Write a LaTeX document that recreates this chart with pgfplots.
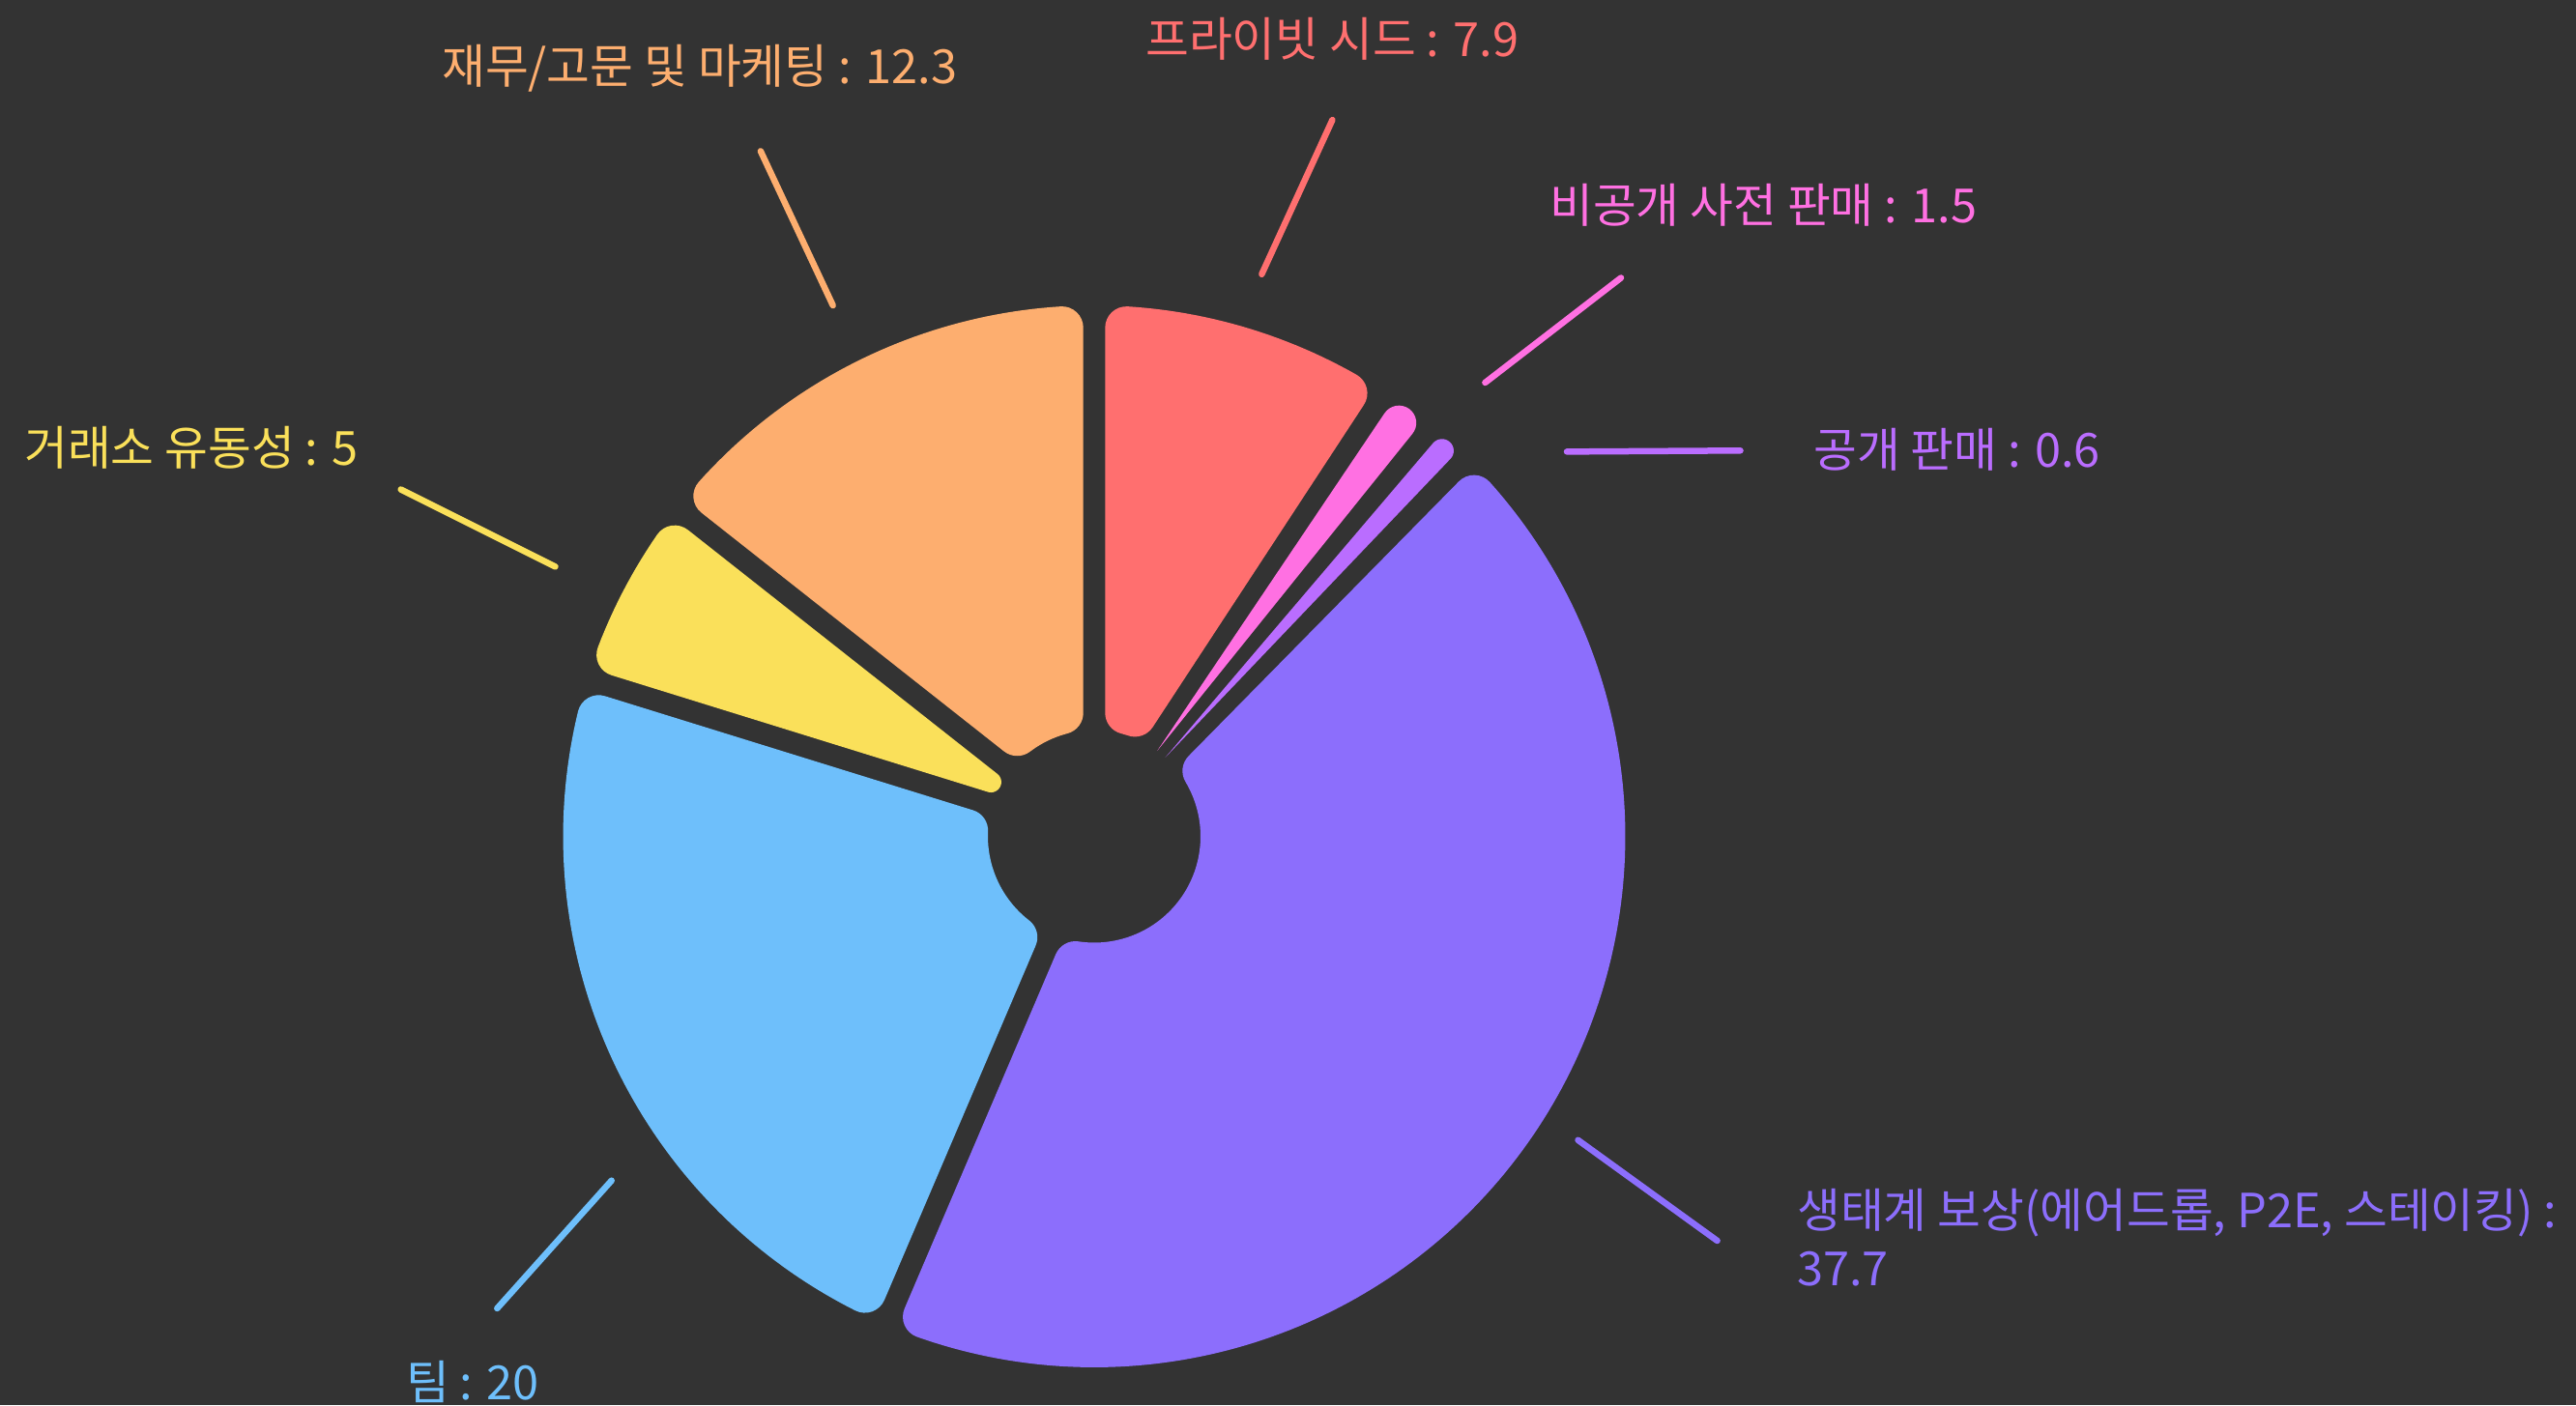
\documentclass[border=0pt]{standalone}
\usepackage{pgfplots}
\pgfplotsset{compat=1.18}
\usepackage{pgfplotstable}
\usepackage{fontspec}
\newfontfamily\kr{Noto Sans CJK KR}

\definecolor{bgc}{HTML}{333333}
\definecolor{sc0}{HTML}{FF6F6F}
\definecolor{sc1}{HTML}{FF70E2}
\definecolor{sc2}{HTML}{BA6DFF}
\definecolor{sc3}{HTML}{8C6EFC}
\definecolor{sc4}{HTML}{6EBFFB}
\definecolor{sc5}{HTML}{FAE05A}
\definecolor{sc6}{HTML}{FDAE6F}

% slice values, clockwise from 12 o'clock
\pgfplotstableread{
value
7.9
1.5
0.6
37.7
20
5
12.3
}\piedata

% geometry (in units of 100 px of the picture)
\def\pieR{5.495}\def\pier{1.10}\def\pieg{0.113}\def\pierho{0.22}
\def\cx{11.32}\def\cy{5.885}
\def\minang{5}
\def\emptymacro{}

\newcommand\addpt[2]{%
  \pgfmathsetmacro\tX{100*(\cx+(#1)*cos(\pmid)-(#2)*sin(\pmid))}%
  \pgfmathsetmacro\tY{100*(\cy+(#1)*sin(\pmid)+(#2)*cos(\pmid))}%
  \ifx\gpath\emptymacro\xdef\gpath{(axis cs:\tX,\tY)}\else\xdef\gpath{\gpath -- (axis cs:\tX,\tY)}\fi
}
\newcommand\addarc[6]{%
  \foreach \kk in {0,...,#6}{%
    \pgfmathsetmacro\ta{#4+((#5)-(#4))*(\kk/(#6))}%
    \pgfmathsetmacro\ux{#1+(#3)*cos(\ta)}%
    \pgfmathsetmacro\uy{#2+(#3)*sin(\ta)}%
    \addpt{\ux}{\uy}%
  }%
}
\newcommand\buildslice[3]{%
  \pgfmathsetmacro\slH{((#2)-(#3))/2}%
  \pgfmathsetmacro\pmid{((#2)+(#3))/2}%
  \pgfmathsetmacro\slS{sin(\slH)}%
  \pgfmathsetmacro\slC{cos(\slH)}%
  \pgfmathsetmacro\ro{min(\pierho,(\pieR*\slS-\pieg)/(1+\slS))}%
  \pgfmathsetmacro\Do{\pieg+\ro}%
  \pgfmathsetmacro\So{\pieR-\ro}%
  \pgfmathsetmacro\ao{sqrt(\So*\So-\Do*\Do)}%
  \pgfmathsetmacro\Cox{\ao*\slC+\Do*\slS}%
  \pgfmathsetmacro\Coy{\ao*\slS-\Do*\slC}%
  \pgfmathsetmacro\phio{atan2(\Coy,\Cox)}%
  \pgfmathsetmacro\slT{\pier*\slS-\pieg}%
  \gdef\gpath{}%
  \addarc{\Cox}{\Coy}{\ro}{\slH+90}{\phio}{8}%
  \pgfmathtruncatemacro\nst{max(2,2*\phio)}%
  \addarc{0}{0}{\pieR}{\phio}{-\phio}{\nst}%
  \addarc{\Cox}{-1*\Coy}{\ro}{-\phio}{-\slH-90}{8}%
  \pgfmathtruncatemacro\rnd{\slT>0.002}%
  \ifnum\rnd=1
    \pgfmathsetmacro\ri{min(\pierho,\slT/(1-\slS))}%
    \pgfmathsetmacro\Di{\pieg+\ri}%
    \pgfmathsetmacro\Si{\pier+\ri}%
    \pgfmathsetmacro\ai{sqrt(\Si*\Si-\Di*\Di)}%
    \pgfmathsetmacro\Cix{\ai*\slC+\Di*\slS}%
    \pgfmathsetmacro\Ciy{\ai*\slS-\Di*\slC}%
    \pgfmathsetmacro\phii{atan2(\Ciy,\Cix)}%
    \pgfmathtruncatemacro\nsi{max(2,\phii)}%
    \addarc{\Cix}{-1*\Ciy}{\ri}{-\slH-90}{-\phii-180}{8}%
    \addarc{0}{0}{\pier}{-\phii}{\phii}{\nsi}%
    \addarc{\Cix}{\Ciy}{\ri}{\phii+180}{\slH+90}{8}%
  \else
    \addpt{\pier}{0}%
  \fi
  \expandafter\xdef\csname spath#1\endcsname{\gpath -- cycle}%
}

% angles from values (with a minimum angle for tiny slices)
\pgfplotstablegetrowsof{\piedata}
\pgfmathtruncatemacro\nlast{\pgfplotsretval-1}
\gdef\vsum{0}
\foreach \i in {0,...,\nlast}{\pgfplotstablegetelem{\i}{value}\of\piedata
  \pgfmathsetmacro\tmpv{\vsum+\pgfplotsretval}\xdef\vsum{\tmpv}}
\pgfmathsetmacro\uone{360/\vsum}
\gdef\nsmall{0}\gdef\bigsum{0}
\foreach \i in {0,...,\nlast}{\pgfplotstablegetelem{\i}{value}\of\piedata
  \pgfmathtruncatemacro\issmall{\pgfplotsretval*\uone<\minang}%
  \ifnum\issmall=1 \pgfmathsetmacro\tmpv{\nsmall+1}\xdef\nsmall{\tmpv}%
  \else \pgfmathsetmacro\tmpv{\bigsum+\pgfplotsretval}\xdef\bigsum{\tmpv}\fi}
\pgfmathsetmacro\utwo{(360-\nsmall*\minang)/\bigsum}
\gdef\cur{90}
\foreach \i in {0,...,\nlast}{\pgfplotstablegetelem{\i}{value}\of\piedata
  \pgfmathtruncatemacro\issmall{\pgfplotsretval*\uone<\minang}%
  \ifnum\issmall=1 \edef\sw{\minang}\else\pgfmathsetmacro\sw{\pgfplotsretval*\utwo}\fi
  \pgfmathsetmacro\nxt{\cur-\sw}%
  \buildslice{\i}{\cur}{\nxt}%
  \xdef\cur{\nxt}}

\begin{document}
\begin{tikzpicture}
\begin{axis}[name=ax, hide axis, scale only axis, width=2665bp, height=1454bp,
  xmin=0, xmax=2665, ymin=0, ymax=1454, clip=false]
\fill[bgc] (axis cs:0,0) rectangle (axis cs:2665,1454);
\pgfplotsinvokeforeach{0,...,6}{%
  \edef\tmppath{\noexpand\fill[sc#1] \csname spath#1\endcsname;}\tmppath
}
% leader lines
\tikzset{ll/.style={line width=6.5bp, line cap=round}}
\draw[ll, sc6] (axis cs:861.7,1137.9) -- (axis cs:786.9,1297.6);
\draw[ll, sc0] (axis cs:1305.3,1170.2) -- (axis cs:1378.4,1329.9);
\draw[ll, sc1] (axis cs:1536.4,1058) -- (axis cs:1677,1166.5);
\draw[ll, sc2] (axis cs:1621,986.6) -- (axis cs:1800.5,987.7);
\draw[ll, sc3] (axis cs:1632.5,274.2) -- (axis cs:1776.6,170);
\draw[ll, sc4] (axis cs:632.7,232.3) -- (axis cs:514.3,100);
\draw[ll, sc5] (axis cs:574.5,867.6) -- (axis cs:414.7,947.5);
% labels
\tikzset{lb/.style={anchor=base west, inner sep=0pt, font=\kr\fontsize{48.7bp}{56bp}\selectfont}}
\node[lb, text=sc6] at (axis cs:457,1367) {재무/고문 및 마케팅 : 12.3};
\node[lb, text=sc0] at (axis cs:1185,1395) {프라이빗 시드 : 7.9};
\node[lb, text=sc1] at (axis cs:1603,1223) {비공개 사전 판매 : 1.5};
\node[lb, text=sc2] at (axis cs:1876,970) {공개 판매 : 0.6};
\node[lb, text=sc3] at (axis cs:1859,184) {생태계 보상(에어드롭, P2E, 스테이킹) :};
\node[lb, text=sc3] at (axis cs:1859,124) {37.7};
\node[lb, text=sc4] at (axis cs:420,6) {팀 : 20};
\node[lb, text=sc5] at (axis cs:25,972) {거래소 유동성 : 5};
\end{axis}
\pgfresetboundingbox
\path[use as bounding box] (ax.south west) rectangle (ax.north east);
\end{tikzpicture}
\end{document}
